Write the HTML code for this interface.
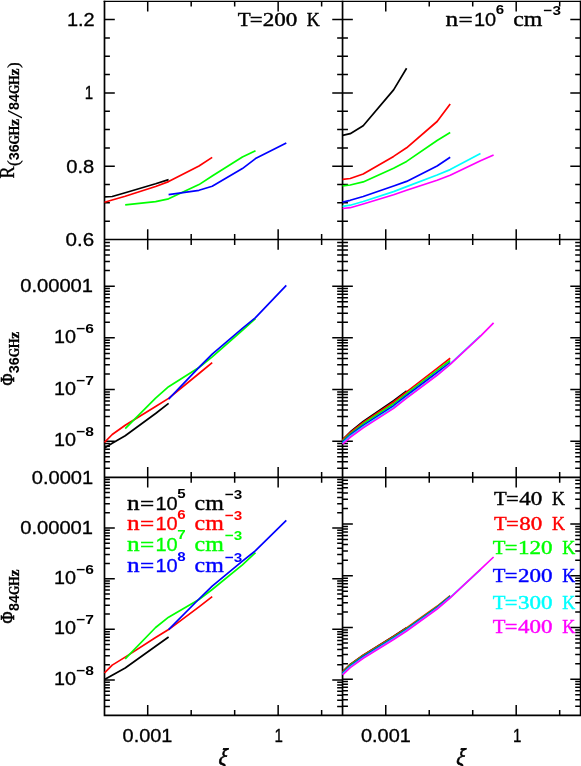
<!DOCTYPE html>
<html><head><meta charset="utf-8"><title>Line ratio and flux vs xi</title>
<style>html,body{margin:0;padding:0;background:#fff;}body{width:581px;height:766px;overflow:hidden;font-family:"Liberation Sans",sans-serif;}svg{display:block;will-change:transform;}.s{font-family:"Liberation Sans",sans-serif;stroke-width:0.3;}.r{font-family:"Liberation Serif",serif;stroke-width:0.4;paint-order:stroke;}.rr{font-family:"Liberation Serif",serif;}.sb{font-family:"Liberation Sans",sans-serif;font-weight:bold;}.rb{font-family:"Liberation Serif",serif;font-weight:bold;stroke:#000;stroke-width:0.3;}</style></head><body>
<svg width="581" height="766" viewBox="0 0 581 766">
<rect width="581" height="766" fill="#fff"/>
<g transform="translate(0 0)">
<path d="M147.71 1.20v10.30M147.71 229.20v20.60M147.71 467.00v20.60M147.71 715.40v-10.30M191.19 1.20v5.40M191.19 234.10v10.80M191.19 471.90v10.80M191.19 715.40v-5.40M234.67 1.20v5.40M234.67 234.10v10.80M234.67 471.90v10.80M234.67 715.40v-5.40M278.15 1.20v10.30M278.15 229.20v20.60M278.15 467.00v20.60M278.15 715.40v-10.30M321.63 1.20v5.40M321.63 234.10v10.80M321.63 471.90v10.80M321.63 715.40v-5.40M385.76 1.20v10.30M385.76 229.20v20.60M385.76 467.00v20.60M385.76 715.40v-10.30M429.24 1.20v5.40M429.24 234.10v10.80M429.24 471.90v10.80M429.24 715.40v-5.40M472.72 1.20v5.40M472.72 234.10v10.80M472.72 471.90v10.80M472.72 715.40v-5.40M516.20 1.20v10.30M516.20 229.20v20.60M516.20 467.00v20.60M516.20 715.40v-10.30M559.68 1.20v5.40M559.68 234.10v10.80M559.68 471.90v10.80M559.68 715.40v-5.40M104.50 221.17h5.40M342.55 221.17h-5.40M104.50 202.85h5.40M342.55 202.85h-5.40M104.50 184.52h5.40M342.55 184.52h-5.40M104.50 166.20h10.30M342.55 166.20h-10.30M104.50 147.88h5.40M342.55 147.88h-5.40M104.50 129.55h5.40M342.55 129.55h-5.40M104.50 111.22h5.40M342.55 111.22h-5.40M104.50 92.90h10.30M342.55 92.90h-10.30M104.50 74.57h5.40M342.55 74.57h-5.40M104.50 56.25h5.40M342.55 56.25h-5.40M104.50 37.93h5.40M342.55 37.93h-5.40M104.50 19.60h10.30M342.55 19.60h-10.30M342.55 221.17h5.40M580.60 221.17h-5.40M342.55 202.85h5.40M580.60 202.85h-5.40M342.55 184.52h5.40M580.60 184.52h-5.40M342.55 166.20h10.30M580.60 166.20h-10.30M342.55 147.88h5.40M580.60 147.88h-5.40M342.55 129.55h5.40M580.60 129.55h-5.40M342.55 111.22h5.40M580.60 111.22h-5.40M342.55 92.90h10.30M580.60 92.90h-10.30M342.55 74.57h5.40M580.60 74.57h-5.40M342.55 56.25h5.40M580.60 56.25h-5.40M342.55 37.93h5.40M580.60 37.93h-5.40M342.55 19.60h10.30M580.60 19.60h-10.30M104.50 468.23h5.40M342.55 468.23h-5.40M104.50 461.78h5.40M342.55 461.78h-5.40M104.50 456.77h5.40M342.55 456.77h-5.40M104.50 452.68h5.40M342.55 452.68h-5.40M104.50 449.22h5.40M342.55 449.22h-5.40M104.50 446.22h5.40M342.55 446.22h-5.40M104.50 443.57h5.40M342.55 443.57h-5.40M104.50 441.21h10.30M342.55 441.21h-10.30M104.50 425.65h5.40M342.55 425.65h-5.40M104.50 416.55h5.40M342.55 416.55h-5.40M104.50 410.10h5.40M342.55 410.10h-5.40M104.50 405.09h5.40M342.55 405.09h-5.40M104.50 401.00h5.40M342.55 401.00h-5.40M104.50 397.54h5.40M342.55 397.54h-5.40M104.50 394.54h5.40M342.55 394.54h-5.40M104.50 391.89h5.40M342.55 391.89h-5.40M104.50 389.53h10.30M342.55 389.53h-10.30M104.50 373.97h5.40M342.55 373.97h-5.40M104.50 364.87h5.40M342.55 364.87h-5.40M104.50 358.42h5.40M342.55 358.42h-5.40M104.50 353.41h5.40M342.55 353.41h-5.40M104.50 349.32h5.40M342.55 349.32h-5.40M104.50 345.86h5.40M342.55 345.86h-5.40M104.50 342.86h5.40M342.55 342.86h-5.40M104.50 340.21h5.40M342.55 340.21h-5.40M104.50 337.85h10.30M342.55 337.85h-10.30M104.50 322.29h5.40M342.55 322.29h-5.40M104.50 313.19h5.40M342.55 313.19h-5.40M104.50 306.74h5.40M342.55 306.74h-5.40M104.50 301.73h5.40M342.55 301.73h-5.40M104.50 297.64h5.40M342.55 297.64h-5.40M104.50 294.18h5.40M342.55 294.18h-5.40M104.50 291.18h5.40M342.55 291.18h-5.40M104.50 288.53h5.40M342.55 288.53h-5.40M104.50 286.17h10.30M342.55 286.17h-10.30M104.50 270.61h5.40M342.55 270.61h-5.40M104.50 261.51h5.40M342.55 261.51h-5.40M104.50 255.06h5.40M342.55 255.06h-5.40M104.50 250.05h5.40M342.55 250.05h-5.40M104.50 245.96h5.40M342.55 245.96h-5.40M104.50 242.50h5.40M342.55 242.50h-5.40M342.55 468.23h5.40M580.60 468.23h-5.40M342.55 461.78h5.40M580.60 461.78h-5.40M342.55 456.77h5.40M580.60 456.77h-5.40M342.55 452.68h5.40M580.60 452.68h-5.40M342.55 449.22h5.40M580.60 449.22h-5.40M342.55 446.22h5.40M580.60 446.22h-5.40M342.55 443.57h5.40M580.60 443.57h-5.40M342.55 441.21h10.30M580.60 441.21h-10.30M342.55 425.65h5.40M580.60 425.65h-5.40M342.55 416.55h5.40M580.60 416.55h-5.40M342.55 410.10h5.40M580.60 410.10h-5.40M342.55 405.09h5.40M580.60 405.09h-5.40M342.55 401.00h5.40M580.60 401.00h-5.40M342.55 397.54h5.40M580.60 397.54h-5.40M342.55 394.54h5.40M580.60 394.54h-5.40M342.55 391.89h5.40M580.60 391.89h-5.40M342.55 389.53h10.30M580.60 389.53h-10.30M342.55 373.97h5.40M580.60 373.97h-5.40M342.55 364.87h5.40M580.60 364.87h-5.40M342.55 358.42h5.40M580.60 358.42h-5.40M342.55 353.41h5.40M580.60 353.41h-5.40M342.55 349.32h5.40M580.60 349.32h-5.40M342.55 345.86h5.40M580.60 345.86h-5.40M342.55 342.86h5.40M580.60 342.86h-5.40M342.55 340.21h5.40M580.60 340.21h-5.40M342.55 337.85h10.30M580.60 337.85h-10.30M342.55 322.29h5.40M580.60 322.29h-5.40M342.55 313.19h5.40M580.60 313.19h-5.40M342.55 306.74h5.40M580.60 306.74h-5.40M342.55 301.73h5.40M580.60 301.73h-5.40M342.55 297.64h5.40M580.60 297.64h-5.40M342.55 294.18h5.40M580.60 294.18h-5.40M342.55 291.18h5.40M580.60 291.18h-5.40M342.55 288.53h5.40M580.60 288.53h-5.40M342.55 286.17h10.30M580.60 286.17h-10.30M342.55 270.61h5.40M580.60 270.61h-5.40M342.55 261.51h5.40M580.60 261.51h-5.40M342.55 255.06h5.40M580.60 255.06h-5.40M342.55 250.05h5.40M580.60 250.05h-5.40M342.55 245.96h5.40M580.60 245.96h-5.40M342.55 242.50h5.40M580.60 242.50h-5.40M104.50 706.47h5.40M342.55 706.47h-5.40M104.50 700.14h5.40M342.55 700.14h-5.40M104.50 695.23h5.40M342.55 695.23h-5.40M104.50 691.22h5.40M342.55 691.22h-5.40M104.50 687.83h5.40M342.55 687.83h-5.40M104.50 684.89h5.40M342.55 684.89h-5.40M104.50 682.30h5.40M342.55 682.30h-5.40M104.50 679.98h10.30M342.55 679.98h-10.30M104.50 664.73h5.40M342.55 664.73h-5.40M104.50 655.80h5.40M342.55 655.80h-5.40M104.50 649.47h5.40M342.55 649.47h-5.40M104.50 644.56h5.40M342.55 644.56h-5.40M104.50 640.55h5.40M342.55 640.55h-5.40M104.50 637.16h5.40M342.55 637.16h-5.40M104.50 634.22h5.40M342.55 634.22h-5.40M104.50 631.63h5.40M342.55 631.63h-5.40M104.50 629.31h10.30M342.55 629.31h-10.30M104.50 614.06h5.40M342.55 614.06h-5.40M104.50 605.13h5.40M342.55 605.13h-5.40M104.50 598.80h5.40M342.55 598.80h-5.40M104.50 593.89h5.40M342.55 593.89h-5.40M104.50 589.88h5.40M342.55 589.88h-5.40M104.50 586.49h5.40M342.55 586.49h-5.40M104.50 583.55h5.40M342.55 583.55h-5.40M104.50 580.96h5.40M342.55 580.96h-5.40M104.50 578.64h10.30M342.55 578.64h-10.30M104.50 563.39h5.40M342.55 563.39h-5.40M104.50 554.46h5.40M342.55 554.46h-5.40M104.50 548.13h5.40M342.55 548.13h-5.40M104.50 543.22h5.40M342.55 543.22h-5.40M104.50 539.21h5.40M342.55 539.21h-5.40M104.50 535.82h5.40M342.55 535.82h-5.40M104.50 532.88h5.40M342.55 532.88h-5.40M104.50 530.29h5.40M342.55 530.29h-5.40M104.50 527.97h10.30M342.55 527.97h-10.30M104.50 512.72h5.40M342.55 512.72h-5.40M104.50 503.79h5.40M342.55 503.79h-5.40M104.50 497.46h5.40M342.55 497.46h-5.40M104.50 492.55h5.40M342.55 492.55h-5.40M104.50 488.54h5.40M342.55 488.54h-5.40M104.50 485.15h5.40M342.55 485.15h-5.40M104.50 482.21h5.40M342.55 482.21h-5.40M104.50 479.62h5.40M342.55 479.62h-5.40M342.55 706.30h5.40M580.60 706.30h-5.40M342.55 699.84h5.40M580.60 699.84h-5.40M342.55 694.83h5.40M580.60 694.83h-5.40M342.55 690.73h5.40M580.60 690.73h-5.40M342.55 687.26h5.40M580.60 687.26h-5.40M342.55 684.26h5.40M580.60 684.26h-5.40M342.55 681.62h5.40M580.60 681.62h-5.40M342.55 679.25h10.30M580.60 679.25h-10.30M342.55 663.67h5.40M580.60 663.67h-5.40M342.55 654.56h5.40M580.60 654.56h-5.40M342.55 648.10h5.40M580.60 648.10h-5.40M342.55 643.09h5.40M580.60 643.09h-5.40M342.55 638.99h5.40M580.60 638.99h-5.40M342.55 635.52h5.40M580.60 635.52h-5.40M342.55 632.52h5.40M580.60 632.52h-5.40M342.55 629.88h5.40M580.60 629.88h-5.40M342.55 627.51h10.30M580.60 627.51h-10.30M342.55 611.93h5.40M580.60 611.93h-5.40M342.55 602.82h5.40M580.60 602.82h-5.40M342.55 596.36h5.40M580.60 596.36h-5.40M342.55 591.35h5.40M580.60 591.35h-5.40M342.55 587.25h5.40M580.60 587.25h-5.40M342.55 583.78h5.40M580.60 583.78h-5.40M342.55 580.78h5.40M580.60 580.78h-5.40M342.55 578.14h5.40M580.60 578.14h-5.40M342.55 575.77h10.30M580.60 575.77h-10.30M342.55 560.19h5.40M580.60 560.19h-5.40M342.55 551.08h5.40M580.60 551.08h-5.40M342.55 544.62h5.40M580.60 544.62h-5.40M342.55 539.61h5.40M580.60 539.61h-5.40M342.55 535.51h5.40M580.60 535.51h-5.40M342.55 532.04h5.40M580.60 532.04h-5.40M342.55 529.04h5.40M580.60 529.04h-5.40M342.55 526.40h5.40M580.60 526.40h-5.40M342.55 524.03h10.30M580.60 524.03h-10.30M342.55 508.45h5.40M580.60 508.45h-5.40M342.55 499.34h5.40M580.60 499.34h-5.40M342.55 492.88h5.40M580.60 492.88h-5.40M342.55 487.87h5.40M580.60 487.87h-5.40M342.55 483.77h5.40M580.60 483.77h-5.40M342.55 480.30h5.40M580.60 480.30h-5.40" stroke="#000" stroke-width="1.5" fill="none"/>
<path d="M103.65 1.33H581.45" stroke="#000" stroke-width="1.35" fill="none"/>
<path d="M104.5 0.7V716.25 M580.6 0.7V716.25 M342.55 0.7V715.4 M104.5 715.4H580.6 M104.5 239.5H580.6 M104.5 477.3H580.6" stroke="#000" stroke-width="1.7" fill="none"/>
<polyline points="104.5,196.8 112.2,196.5 125.2,192.7 155.6,183.8 168.6,179.6" fill="none" stroke="#000" stroke-width="1.7" stroke-linejoin="round" stroke-linecap="butt"/>
<polyline points="104.5,202.2 112.2,200.0 125.2,196.3 155.6,186.5 168.6,181.6 199.0,166.0 212.2,157.4" fill="none" stroke="#f00" stroke-width="1.7" stroke-linejoin="round" stroke-linecap="butt"/>
<polyline points="125.2,204.9 155.6,201.6 168.6,198.8 199.0,184.6 212.2,176.0 242.4,157.0 255.5,150.8" fill="none" stroke="#0f0" stroke-width="1.7" stroke-linejoin="round" stroke-linecap="butt"/>
<polyline points="168.6,194.7 199.0,190.3 212.2,186.3 242.4,168.6 255.5,158.6 286.3,142.9" fill="none" stroke="#00f" stroke-width="1.7" stroke-linejoin="round" stroke-linecap="butt"/>
<polyline points="342.6,135.4 350.2,133.7 363.2,125.7 393.6,89.9 406.6,68.3" fill="none" stroke="#000" stroke-width="1.7" stroke-linejoin="round" stroke-linecap="butt"/>
<polyline points="342.6,179.4 350.2,178.5 363.2,174.0 393.6,156.4 406.6,147.8 437.1,121.5 450.2,104.0" fill="none" stroke="#f00" stroke-width="1.7" stroke-linejoin="round" stroke-linecap="butt"/>
<polyline points="342.6,185.8 350.2,185.0 363.2,181.9 393.6,168.2 406.6,161.4 437.1,140.5 450.2,132.5" fill="none" stroke="#0f0" stroke-width="1.7" stroke-linejoin="round" stroke-linecap="butt"/>
<polyline points="342.6,202.1 350.2,200.3 363.2,196.5 393.6,186.0 406.6,181.4 437.1,166.0 450.2,157.3" fill="none" stroke="#00f" stroke-width="1.7" stroke-linejoin="round" stroke-linecap="butt"/>
<polyline points="342.6,206.4 350.2,205.2 363.2,201.5 393.6,191.6 406.6,186.6 437.1,175.0 450.2,169.6 480.5,153.4" fill="none" stroke="#0ff" stroke-width="1.7" stroke-linejoin="round" stroke-linecap="butt"/>
<polyline points="342.6,208.5 350.2,207.7 363.2,204.0 393.6,194.7 406.6,190.3 437.1,180.2 450.2,175.3 480.5,160.7 493.6,155.0" fill="none" stroke="#f0f" stroke-width="1.7" stroke-linejoin="round" stroke-linecap="butt"/>
<polyline points="104.5,447.9 112.2,443.3 125.2,435.7 155.6,413.5 168.6,403.4" fill="none" stroke="#000" stroke-width="1.7" stroke-linejoin="round" stroke-linecap="butt"/>
<polyline points="104.5,442.3 112.2,434.5 125.2,425.3 155.6,406.5 168.6,398.4 199.0,373.5 212.2,362.7" fill="none" stroke="#f00" stroke-width="1.7" stroke-linejoin="round" stroke-linecap="butt"/>
<polyline points="125.2,428.6 155.6,398.2 168.6,386.7 199.0,367.5 212.2,356.8 242.4,330.4 255.5,318.6" fill="none" stroke="#0f0" stroke-width="1.7" stroke-linejoin="round" stroke-linecap="butt"/>
<polyline points="168.6,399.2 199.0,367.4 212.2,354.1 242.4,328.4 255.5,317.6 286.3,285.4" fill="none" stroke="#00f" stroke-width="1.7" stroke-linejoin="round" stroke-linecap="butt"/>
<polyline points="342.6,439.6 350.2,432.0 363.2,421.4 393.6,400.6 406.6,390.9" fill="none" stroke="#000" stroke-width="1.7" stroke-linejoin="round" stroke-linecap="butt"/>
<polyline points="342.6,439.9 350.2,432.6 363.2,422.4 393.6,402.0 406.6,391.8 437.1,368.3 450.2,358.3" fill="none" stroke="#f00" stroke-width="1.7" stroke-linejoin="round" stroke-linecap="butt"/>
<polyline points="342.6,441.0 350.2,433.8 363.2,423.8 393.6,403.8 406.6,393.6 437.1,370.4 450.2,360.5" fill="none" stroke="#0f0" stroke-width="1.7" stroke-linejoin="round" stroke-linecap="butt"/>
<polyline points="342.6,442.2 350.2,435.0 363.2,425.4 393.6,405.7 406.6,395.5 437.1,372.5 450.2,362.6" fill="none" stroke="#00f" stroke-width="1.7" stroke-linejoin="round" stroke-linecap="butt"/>
<polyline points="342.6,443.3 350.2,436.2 363.2,426.9 393.6,407.4 406.6,397.3 437.1,374.6 450.2,363.8 480.5,335.7" fill="none" stroke="#0ff" stroke-width="1.7" stroke-linejoin="round" stroke-linecap="butt"/>
<polyline points="342.6,444.2 350.2,437.3 363.2,427.9 393.6,408.4 406.6,398.2 437.1,375.3 450.2,364.4 480.5,336.1 493.6,322.9" fill="none" stroke="#f0f" stroke-width="1.7" stroke-linejoin="round" stroke-linecap="butt"/>
<polyline points="104.5,679.6 112.2,675.2 125.2,668.0 155.6,646.2 168.6,637.0" fill="none" stroke="#000" stroke-width="1.7" stroke-linejoin="round" stroke-linecap="butt"/>
<polyline points="104.5,672.8 112.2,665.1 125.2,657.1 155.6,637.5 168.6,629.6 199.0,606.9 212.2,596.7" fill="none" stroke="#f00" stroke-width="1.7" stroke-linejoin="round" stroke-linecap="butt"/>
<polyline points="125.2,658.9 155.6,627.5 168.6,617.2 199.0,599.5 212.2,589.5 242.4,564.9 255.5,552.6" fill="none" stroke="#0f0" stroke-width="1.7" stroke-linejoin="round" stroke-linecap="butt"/>
<polyline points="168.6,629.6 199.0,599.0 212.2,586.1 242.4,561.1 255.5,550.7 286.3,520.4" fill="none" stroke="#00f" stroke-width="1.7" stroke-linejoin="round" stroke-linecap="butt"/>
<polyline points="342.6,671.6 350.2,664.4 363.2,655.1 393.6,636.3 406.6,627.8" fill="none" stroke="#000" stroke-width="1.7" stroke-linejoin="round" stroke-linecap="butt"/>
<polyline points="342.6,671.8 350.2,664.6 363.2,655.3 393.6,636.5 406.6,628.0 437.1,606.3 450.2,595.7" fill="none" stroke="#f00" stroke-width="1.7" stroke-linejoin="round" stroke-linecap="butt"/>
<polyline points="342.6,672.5 350.2,665.3 363.2,656.0 393.6,637.2 406.6,628.7 437.1,606.9 450.2,596.1" fill="none" stroke="#0f0" stroke-width="1.7" stroke-linejoin="round" stroke-linecap="butt"/>
<polyline points="342.6,673.3 350.2,666.1 363.2,656.8 393.6,638.0 406.6,629.5 437.1,607.7 450.2,596.7" fill="none" stroke="#00f" stroke-width="1.7" stroke-linejoin="round" stroke-linecap="butt"/>
<polyline points="342.6,674.1 350.2,666.9 363.2,657.6 393.6,638.8 406.6,630.3 437.1,608.4 450.2,597.3 480.5,569.6" fill="none" stroke="#0ff" stroke-width="1.7" stroke-linejoin="round" stroke-linecap="butt"/>
<polyline points="342.6,674.8 350.2,667.6 363.2,658.3 393.6,639.5 406.6,631.0 437.1,609.0 450.2,597.8 480.5,569.3 493.6,557.0" fill="none" stroke="#f0f" stroke-width="1.7" stroke-linejoin="round" stroke-linecap="butt"/>
<text x="122.6" y="742.1" class="s" font-size="18" fill="#000" stroke="#000" textLength="49.8" lengthAdjust="spacingAndGlyphs">0.001</text>
<text x="274.6" y="742.1" class="s" font-size="18" fill="#000" stroke="#000" textLength="8.4" lengthAdjust="spacingAndGlyphs">1</text>
<text x="361.0" y="742.1" class="s" font-size="18" fill="#000" stroke="#000" textLength="49.8" lengthAdjust="spacingAndGlyphs">0.001</text>
<text x="513.0" y="742.1" class="s" font-size="18" fill="#000" stroke="#000" textLength="8.4" lengthAdjust="spacingAndGlyphs">1</text>
<text x="66.9" y="25.5" class="s" font-size="18" fill="#000" stroke="#000" textLength="27.8" lengthAdjust="spacingAndGlyphs">1.2</text>
<text x="84.8" y="98.6" class="s" font-size="18" fill="#000" stroke="#000" textLength="8.4" lengthAdjust="spacingAndGlyphs">1</text>
<text x="66.2" y="172.7" class="s" font-size="18" fill="#000" stroke="#000" textLength="28.0" lengthAdjust="spacingAndGlyphs">0.8</text>
<text x="65.6" y="245.8" class="s" font-size="18" fill="#000" stroke="#000" textLength="28.6" lengthAdjust="spacingAndGlyphs">0.6</text>
<text x="20.2" y="292.2" class="s" font-size="18" fill="#000" stroke="#000" textLength="72.8" lengthAdjust="spacingAndGlyphs">0.00001</text>
<text x="54.0" y="343.35" class="s" font-size="18" fill="#000" stroke="#000" textLength="22.0" lengthAdjust="spacingAndGlyphs">10</text>
<text x="76.2" y="333.3" class="sb" font-size="13.2" fill="#000" textLength="17.8" lengthAdjust="spacingAndGlyphs">−6</text>
<text x="54.0" y="394.95" class="s" font-size="18" fill="#000" stroke="#000" textLength="22.0" lengthAdjust="spacingAndGlyphs">10</text>
<text x="76.2" y="384.9" class="sb" font-size="13.2" fill="#000" textLength="17.8" lengthAdjust="spacingAndGlyphs">−7</text>
<text x="54.0" y="446.45" class="s" font-size="18" fill="#000" stroke="#000" textLength="22.0" lengthAdjust="spacingAndGlyphs">10</text>
<text x="76.2" y="436.4" class="sb" font-size="13.2" fill="#000" textLength="17.8" lengthAdjust="spacingAndGlyphs">−8</text>
<text x="31.8" y="483.6" class="s" font-size="18" fill="#000" stroke="#000" textLength="61.4" lengthAdjust="spacingAndGlyphs">0.0001</text>
<text x="20.2" y="533.9" class="s" font-size="18" fill="#000" stroke="#000" textLength="72.8" lengthAdjust="spacingAndGlyphs">0.00001</text>
<text x="54.0" y="583.85" class="s" font-size="18" fill="#000" stroke="#000" textLength="22.0" lengthAdjust="spacingAndGlyphs">10</text>
<text x="76.2" y="573.8" class="sb" font-size="13.2" fill="#000" textLength="17.8" lengthAdjust="spacingAndGlyphs">−6</text>
<text x="54.0" y="634.35" class="s" font-size="18" fill="#000" stroke="#000" textLength="22.0" lengthAdjust="spacingAndGlyphs">10</text>
<text x="76.2" y="624.3" class="sb" font-size="13.2" fill="#000" textLength="17.8" lengthAdjust="spacingAndGlyphs">−7</text>
<text x="54.0" y="684.85" class="s" font-size="18" fill="#000" stroke="#000" textLength="22.0" lengthAdjust="spacingAndGlyphs">10</text>
<text x="76.2" y="674.8" class="sb" font-size="13.2" fill="#000" textLength="17.8" lengthAdjust="spacingAndGlyphs">−8</text>
<text transform="translate(217.9 765.0) skewX(-8)" class="rr" font-size="24" font-style="italic" fill="#000" stroke="#000" stroke-width="0.7" textLength="8.4" lengthAdjust="spacingAndGlyphs">ξ</text>
<text transform="translate(455.8 765.0) skewX(-8)" class="rr" font-size="24" font-style="italic" fill="#000" stroke="#000" stroke-width="0.7" textLength="8.4" lengthAdjust="spacingAndGlyphs">ξ</text>
<text x="237.7" y="25.9" class="r" font-size="19" fill="#000" stroke="#000" textLength="12.9" lengthAdjust="spacingAndGlyphs">T</text>
<text x="249.8" y="25.9" class="r" font-size="19" fill="#000" stroke="#000" textLength="12.9" lengthAdjust="spacingAndGlyphs">=</text>
<text x="262.8" y="25.9" class="r" font-size="19" fill="#000" stroke="#000" textLength="34.6" lengthAdjust="spacingAndGlyphs">200</text>
<text x="306.8" y="25.9" class="r" font-size="19" fill="#000" stroke="#000" textLength="13.0" lengthAdjust="spacingAndGlyphs">K</text>
<text x="445.6" y="25.8" class="r" font-size="21.5" fill="#000" stroke="#000" textLength="12.6" lengthAdjust="spacingAndGlyphs">n</text>
<text x="458.5" y="25.8" class="r" font-size="19" fill="#000" stroke="#000" textLength="14.2" lengthAdjust="spacingAndGlyphs">=</text>
<text x="474.0" y="25.8" class="s" font-size="18.6" fill="#000" stroke="#000" textLength="22.2" lengthAdjust="spacingAndGlyphs">10</text>
<text x="495.8" y="14.4" class="sb" font-size="13.6" fill="#000" textLength="8.4" lengthAdjust="spacingAndGlyphs">6</text>
<text x="513.2" y="25.8" class="r" font-size="21.5" fill="#000" stroke="#000" textLength="29.2" lengthAdjust="spacingAndGlyphs">cm</text>
<text x="543.5" y="15.3" class="sb" font-size="13.6" fill="#000" textLength="17.4" lengthAdjust="spacingAndGlyphs">−3</text>
<text x="127.0" y="509.7" class="r" font-size="21.5" fill="#000" stroke="#000" textLength="12.6" lengthAdjust="spacingAndGlyphs">n</text>
<text x="139.9" y="509.7" class="r" font-size="19" fill="#000" stroke="#000" textLength="14.2" lengthAdjust="spacingAndGlyphs">=</text>
<text x="155.4" y="509.7" class="s" font-size="18.6" fill="#000" stroke="#000" textLength="22.2" lengthAdjust="spacingAndGlyphs">10</text>
<text x="177.2" y="498.3" class="sb" font-size="13.6" fill="#000" textLength="8.4" lengthAdjust="spacingAndGlyphs">5</text>
<text x="194.60000000000002" y="509.7" class="r" font-size="21.5" fill="#000" stroke="#000" textLength="29.2" lengthAdjust="spacingAndGlyphs">cm</text>
<text x="224.9" y="499.2" class="sb" font-size="13.6" fill="#000" textLength="17.4" lengthAdjust="spacingAndGlyphs">−3</text>
<text x="127.0" y="530.2" class="r" font-size="21.5" fill="#f00" stroke="#f00" textLength="12.6" lengthAdjust="spacingAndGlyphs">n</text>
<text x="139.9" y="530.2" class="r" font-size="19" fill="#f00" stroke="#f00" textLength="14.2" lengthAdjust="spacingAndGlyphs">=</text>
<text x="155.4" y="530.2" class="s" font-size="18.6" fill="#f00" stroke="#f00" textLength="22.2" lengthAdjust="spacingAndGlyphs">10</text>
<text x="177.2" y="518.8" class="sb" font-size="13.6" fill="#f00" textLength="8.4" lengthAdjust="spacingAndGlyphs">6</text>
<text x="194.60000000000002" y="530.2" class="r" font-size="21.5" fill="#f00" stroke="#f00" textLength="29.2" lengthAdjust="spacingAndGlyphs">cm</text>
<text x="224.9" y="519.7" class="sb" font-size="13.6" fill="#f00" textLength="17.4" lengthAdjust="spacingAndGlyphs">−3</text>
<text x="127.0" y="550.6" class="r" font-size="21.5" fill="#0f0" stroke="#0f0" textLength="12.6" lengthAdjust="spacingAndGlyphs">n</text>
<text x="139.9" y="550.6" class="r" font-size="19" fill="#0f0" stroke="#0f0" textLength="14.2" lengthAdjust="spacingAndGlyphs">=</text>
<text x="155.4" y="550.6" class="s" font-size="18.6" fill="#0f0" stroke="#0f0" textLength="22.2" lengthAdjust="spacingAndGlyphs">10</text>
<text x="177.2" y="539.2" class="sb" font-size="13.6" fill="#0f0" textLength="8.4" lengthAdjust="spacingAndGlyphs">7</text>
<text x="194.60000000000002" y="550.6" class="r" font-size="21.5" fill="#0f0" stroke="#0f0" textLength="29.2" lengthAdjust="spacingAndGlyphs">cm</text>
<text x="224.9" y="540.1" class="sb" font-size="13.6" fill="#0f0" textLength="17.4" lengthAdjust="spacingAndGlyphs">−3</text>
<text x="127.0" y="572.4" class="r" font-size="21.5" fill="#00f" stroke="#00f" textLength="12.6" lengthAdjust="spacingAndGlyphs">n</text>
<text x="139.9" y="572.4" class="r" font-size="19" fill="#00f" stroke="#00f" textLength="14.2" lengthAdjust="spacingAndGlyphs">=</text>
<text x="155.4" y="572.4" class="s" font-size="18.6" fill="#00f" stroke="#00f" textLength="22.2" lengthAdjust="spacingAndGlyphs">10</text>
<text x="177.2" y="561.0" class="sb" font-size="13.6" fill="#00f" textLength="8.4" lengthAdjust="spacingAndGlyphs">8</text>
<text x="194.60000000000002" y="572.4" class="r" font-size="21.5" fill="#00f" stroke="#00f" textLength="29.2" lengthAdjust="spacingAndGlyphs">cm</text>
<text x="224.9" y="561.9" class="sb" font-size="13.6" fill="#00f" textLength="17.4" lengthAdjust="spacingAndGlyphs">−3</text>
<text x="494.0" y="505.4" class="r" font-size="19" fill="#000" stroke="#000" textLength="12.7" lengthAdjust="spacingAndGlyphs">T</text>
<text x="506.0" y="505.4" class="r" font-size="19" fill="#000" stroke="#000" textLength="12.7" lengthAdjust="spacingAndGlyphs">=</text>
<text x="519.3" y="505.4" class="r" font-size="19" fill="#000" stroke="#000" textLength="23.0" lengthAdjust="spacingAndGlyphs">40</text>
<text x="552.0999999999999" y="505.4" class="r" font-size="19" fill="#000" stroke="#000" textLength="13.0" lengthAdjust="spacingAndGlyphs">K</text>
<text x="494.0" y="529.9" class="r" font-size="19" fill="#f00" stroke="#f00" textLength="12.7" lengthAdjust="spacingAndGlyphs">T</text>
<text x="506.0" y="529.9" class="r" font-size="19" fill="#f00" stroke="#f00" textLength="12.7" lengthAdjust="spacingAndGlyphs">=</text>
<text x="519.3" y="529.9" class="r" font-size="19" fill="#f00" stroke="#f00" textLength="23.0" lengthAdjust="spacingAndGlyphs">80</text>
<text x="552.0999999999999" y="529.9" class="r" font-size="19" fill="#f00" stroke="#f00" textLength="13.0" lengthAdjust="spacingAndGlyphs">K</text>
<text x="492.7" y="553.8" class="r" font-size="19" fill="#0f0" stroke="#0f0" textLength="12.7" lengthAdjust="spacingAndGlyphs">T</text>
<text x="504.7" y="553.8" class="r" font-size="19" fill="#0f0" stroke="#0f0" textLength="12.7" lengthAdjust="spacingAndGlyphs">=</text>
<text x="518.0" y="553.8" class="r" font-size="19" fill="#0f0" stroke="#0f0" textLength="34.5" lengthAdjust="spacingAndGlyphs">120</text>
<text x="562.3" y="553.8" class="r" font-size="19" fill="#0f0" stroke="#0f0" textLength="13.0" lengthAdjust="spacingAndGlyphs">K</text>
<text x="492.7" y="582.1" class="r" font-size="19" fill="#00f" stroke="#00f" textLength="12.7" lengthAdjust="spacingAndGlyphs">T</text>
<text x="504.7" y="582.1" class="r" font-size="19" fill="#00f" stroke="#00f" textLength="12.7" lengthAdjust="spacingAndGlyphs">=</text>
<text x="518.0" y="582.1" class="r" font-size="19" fill="#00f" stroke="#00f" textLength="34.5" lengthAdjust="spacingAndGlyphs">200</text>
<text x="562.3" y="582.1" class="r" font-size="19" fill="#00f" stroke="#00f" textLength="13.0" lengthAdjust="spacingAndGlyphs">K</text>
<text x="492.7" y="609.0" class="r" font-size="19" fill="#0ff" stroke="#0ff" textLength="12.7" lengthAdjust="spacingAndGlyphs">T</text>
<text x="504.7" y="609.0" class="r" font-size="19" fill="#0ff" stroke="#0ff" textLength="12.7" lengthAdjust="spacingAndGlyphs">=</text>
<text x="518.0" y="609.0" class="r" font-size="19" fill="#0ff" stroke="#0ff" textLength="34.5" lengthAdjust="spacingAndGlyphs">300</text>
<text x="562.3" y="609.0" class="r" font-size="19" fill="#0ff" stroke="#0ff" textLength="13.0" lengthAdjust="spacingAndGlyphs">K</text>
<text x="492.7" y="633.3" class="r" font-size="19" fill="#f0f" stroke="#f0f" textLength="12.7" lengthAdjust="spacingAndGlyphs">T</text>
<text x="504.7" y="633.3" class="r" font-size="19" fill="#f0f" stroke="#f0f" textLength="12.7" lengthAdjust="spacingAndGlyphs">=</text>
<text x="518.0" y="633.3" class="r" font-size="19" fill="#f0f" stroke="#f0f" textLength="34.5" lengthAdjust="spacingAndGlyphs">400</text>
<text x="562.3" y="633.3" class="r" font-size="19" fill="#f0f" stroke="#f0f" textLength="13.0" lengthAdjust="spacingAndGlyphs">K</text>
<text transform="translate(14.4 178.4) rotate(-90)" class="rr" font-size="20.4" fill="#000" stroke="#000" stroke-width="0.35" textLength="12.0" lengthAdjust="spacingAndGlyphs">R</text>
<text transform="translate(19.1 166.0) rotate(-90)" class="rr" font-size="17" fill="#000" stroke="#000" stroke-width="0.3" textLength="5.7" lengthAdjust="spacingAndGlyphs">(</text>
<text transform="translate(19.1 160.3) rotate(-90)" class="sb" font-size="14.0" fill="#000" textLength="15.9" lengthAdjust="spacingAndGlyphs">36</text>
<text transform="translate(19.1 144.4) rotate(-90)" class="rb" font-size="14.6" fill="#000" textLength="9.4" lengthAdjust="spacingAndGlyphs">G</text>
<text transform="translate(19.1 135.4) rotate(-90)" class="rb" font-size="14.6" fill="#000" textLength="9.7" lengthAdjust="spacingAndGlyphs">H</text>
<text transform="translate(19.1 126.0) rotate(-90)" class="rb" font-size="14.6" fill="#000" textLength="7.0" lengthAdjust="spacingAndGlyphs">z</text>
<text transform="translate(21.7 118.4) rotate(-90)" class="rr" font-size="20.5" fill="#000" textLength="8.6" lengthAdjust="spacingAndGlyphs">/</text>
<text transform="translate(19.1 110.0) rotate(-90)" class="sb" font-size="14.0" fill="#000" textLength="15.9" lengthAdjust="spacingAndGlyphs">84</text>
<text transform="translate(19.1 94.0) rotate(-90)" class="rb" font-size="14.6" fill="#000" textLength="9.4" lengthAdjust="spacingAndGlyphs">G</text>
<text transform="translate(19.1 85.0) rotate(-90)" class="rb" font-size="14.6" fill="#000" textLength="9.7" lengthAdjust="spacingAndGlyphs">H</text>
<text transform="translate(19.1 75.6) rotate(-90)" class="rb" font-size="14.6" fill="#000" textLength="7.0" lengthAdjust="spacingAndGlyphs">z</text>
<text transform="translate(19.1 68.1) rotate(-90)" class="rr" font-size="17" fill="#000" stroke="#000" stroke-width="0.3" textLength="5.7" lengthAdjust="spacingAndGlyphs">)</text>
<text transform="translate(14.0 385.4) rotate(-90)" class="rr" font-size="18.4" fill="#000" stroke="#000" stroke-width="0.6" textLength="12.0" lengthAdjust="spacingAndGlyphs">Φ</text>
<text transform="translate(19.1 373.2) rotate(-90)" class="sb" font-size="14.0" fill="#000" textLength="15.9" lengthAdjust="spacingAndGlyphs">36</text>
<text transform="translate(19.1 357.2) rotate(-90)" class="rb" font-size="14.6" fill="#000" textLength="9.4" lengthAdjust="spacingAndGlyphs">G</text>
<text transform="translate(19.1 348.2) rotate(-90)" class="rb" font-size="14.6" fill="#000" textLength="9.7" lengthAdjust="spacingAndGlyphs">H</text>
<text transform="translate(19.1 338.8) rotate(-90)" class="rb" font-size="14.6" fill="#000" textLength="7.0" lengthAdjust="spacingAndGlyphs">z</text>
<text transform="translate(14.0 623.5) rotate(-90)" class="rr" font-size="18.4" fill="#000" stroke="#000" stroke-width="0.6" textLength="12.0" lengthAdjust="spacingAndGlyphs">Φ</text>
<text transform="translate(19.1 611.0) rotate(-90)" class="sb" font-size="14.0" fill="#000" textLength="15.9" lengthAdjust="spacingAndGlyphs">84</text>
<text transform="translate(19.1 595.0) rotate(-90)" class="rb" font-size="14.6" fill="#000" textLength="9.4" lengthAdjust="spacingAndGlyphs">G</text>
<text transform="translate(19.1 586.0) rotate(-90)" class="rb" font-size="14.6" fill="#000" textLength="9.7" lengthAdjust="spacingAndGlyphs">H</text>
<text transform="translate(19.1 576.6) rotate(-90)" class="rb" font-size="14.6" fill="#000" textLength="7.0" lengthAdjust="spacingAndGlyphs">z</text>
</g></svg></body></html>
